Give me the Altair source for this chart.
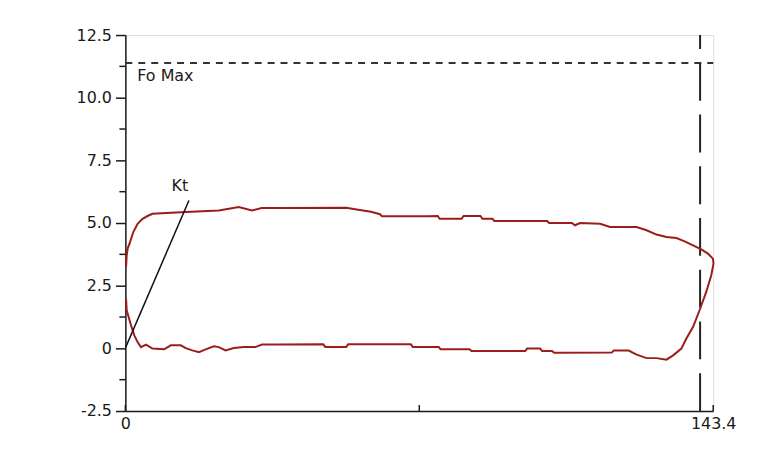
import altair as alt
import pandas as pd

# Force–displacement loop (x: displacement, y: force)
loop_x = [0.17, 0.32, 1.38, 2.18, 2.98, 3.81, 5.02, 6.62, 9.46, 11.09, 13.52, 14.73, 16.33,
          17.96, 19.58, 21.6, 22.81, 24.43, 26.45, 28.87, 31.71, 33.31, 37.37, 48.28, 48.77,
          53.87, 54.35, 69.64, 70.12, 76.43, 76.92, 83.95, 84.44, 97.54, 98.02, 101.18,
          101.66, 104.09, 104.58, 118.65, 119.14, 122.78, 124.72, 127.14, 129.57, 131.99,
          133.62, 135.63, 136.85, 138.47, 140.07, 141.7, 142.91, 143.47, 143.33, 142.11,
          140.49, 138.47, 136.44, 134.42, 131.99, 129.57, 127.14, 124.72, 118.24, 115.81,
          110.96, 109.67, 108.94, 103.36, 102.88, 90.02, 89.53, 87.11, 86.62, 82.5, 82.01,
          76.67, 76.19, 73.76, 62.6, 62.11, 59.93, 56.78, 53.87, 37.37, 33.24, 30.89, 27.66,
          22.81, 14.73, 6.62, 5.41, 4.2, 2.98, 1.94, 1.14, 0.56, 0.32, 0.17]
loop_y = [1.98, 1.52, 0.92, 0.52, 0.25, 0.05, 0.15, -0.01, -0.04, 0.12, 0.12, 0.01, -0.08,
          -0.15, -0.04, 0.08, 0.05, -0.08, 0.01, 0.05, 0.05, 0.15, 0.15, 0.16, 0.05,
          0.05, 0.16, 0.16, 0.05, 0.05, -0.04, -0.04, -0.11, -0.11, -0.01, -0.01,
          -0.11, -0.11, -0.18, -0.17, -0.09, -0.09, -0.25, -0.39, -0.39, -0.45,
          -0.28, -0.01, 0.39, 0.85, 1.52, 2.25, 2.91, 3.38, 3.58, 3.78,
          3.95, 4.11, 4.27, 4.40, 4.44, 4.54, 4.71, 4.84, 4.84, 4.97,
          5.0, 4.91, 5.0, 5.0, 5.08, 5.08, 5.17, 5.17, 5.28, 5.28, 5.17,
          5.17, 5.28, 5.27, 5.27, 5.35, 5.45, 5.53, 5.61, 5.60, 5.60, 5.50, 5.64,
          5.50, 5.44, 5.37, 5.28, 5.17, 4.97, 4.64, 4.24, 3.98, 3.71, 3.24]

# Stiffness line Kt
kt_x = [0.1, 15.5]
kt_y = [0.05, 5.9]
kt_label = ["Kt"]
kt_label_x = [13.3]
kt_label_y = [6.46]

# Maximum force reference
fo_max = [11.38]
fo_label = ["Fo Max"]
fo_label_x = [2.9]
fo_label_y = [10.85]

# Maximum displacement reference
d_max = [140.2]

x_min, x_max = 0, 143.4
y_min, y_max = -2.5, 12.5
y_major = [-2.5, 0, 2.5, 5.0, 7.5, 10.0, 12.5]
y_minor = [-1.25, 1.25, 3.75, 6.25, 8.75, 11.25]
x_labels = [0, 143.4]
x_ticks = [0, 71.7, 143.4]

W, H = 591, 378
FONT = "DejaVu Sans"
AX = "#1a1a1a"
LBL = ("datum.value == 0 ? '0' : (datum.value < 0 ? '-' + format(-datum.value, '.1f')"
       " : format(datum.value, '.1f'))")

loop_df = pd.DataFrame({"x": loop_x, "y": loop_y, "i": list(range(len(loop_x)))})
kt_df = pd.DataFrame({"x": kt_x, "y": kt_y})

xs = alt.Scale(domain=[x_min, x_max], nice=False, zero=False)
ys = alt.Scale(domain=[y_min, y_max], nice=False, zero=False)

xaxis = alt.Axis(values=x_labels, ticks=False, grid=False, title=None,
                 labelExpr=LBL,
                 labelFont=FONT, labelFontSize=16, labelColor=AX, labelPadding=5,
                 domainColor=AX, domainWidth=1.5, labelFlush=False, labelOverlap=False)
yaxis = alt.Axis(values=y_major, grid=False, title=None, tickSize=10, tickWidth=1.5,
                 tickColor=AX,
                 labelExpr=LBL,
                 labelFont=FONT, labelFontSize=16, labelColor=AX, labelPadding=4,
                 domainColor=AX, domainWidth=1.5, labelFlush=False, labelOverlap=False)

loop = alt.Chart(loop_df).mark_line(color="#9c1c1c", strokeWidth=2, interpolate="linear").encode(
    x=alt.X("x:Q", scale=xs, axis=xaxis),
    y=alt.Y("y:Q", scale=ys, axis=yaxis),
    order="i:O",
)

kt = alt.Chart(kt_df).mark_line(color="#111111", strokeWidth=1.5).encode(
    x=alt.X("x:Q", scale=xs), y=alt.Y("y:Q", scale=ys)
)

kt_text = alt.Chart(pd.DataFrame({"x": kt_label_x, "y": kt_label_y, "t": kt_label})).mark_text(
    font=FONT, fontSize=16, color=AX, align="center", baseline="middle"
).encode(x=alt.X("x:Q", scale=xs), y=alt.Y("y:Q", scale=ys), text="t:N")

fo_rule = alt.Chart(pd.DataFrame({"y": fo_max, "x": [x_min], "x2": [x_max]})).mark_rule(
    color="#333333", strokeWidth=2, strokeDash=[7, 6]
).encode(x=alt.X("x:Q", scale=xs), x2="x2:Q", y=alt.Y("y:Q", scale=ys))

fo_text = alt.Chart(pd.DataFrame({"x": fo_label_x, "y": fo_label_y, "t": fo_label})).mark_text(
    font=FONT, fontSize=16, color=AX, align="left", baseline="middle"
).encode(x=alt.X("x:Q", scale=xs), y=alt.Y("y:Q", scale=ys), text="t:N")

d_rule = alt.Chart(pd.DataFrame({"x": d_max, "y": [y_min], "y2": [y_max]})).mark_rule(
    color="#222222", strokeWidth=2, strokeDash=[38, 14]
).encode(x=alt.X("x:Q", scale=xs), y=alt.Y("y:Q", scale=ys), y2="y2:Q")

minor = alt.Chart(pd.DataFrame({"y": y_minor})).mark_rule(color=AX, strokeWidth=1.5).encode(
    y=alt.Y("y:Q", scale=ys), x=alt.value(-6), x2=alt.value(0)
)

xt = alt.Chart(pd.DataFrame({"x": x_ticks})).mark_rule(color=AX, strokeWidth=1.5).encode(
    x=alt.X("x:Q", scale=xs), y=alt.value(H), y2=alt.value(H - 6)
)

chart = alt.layer(fo_rule, d_rule, loop, kt, kt_text, fo_text, minor, xt).properties(
    width=W, height=H,
    autosize=alt.AutoSizeParams(type="none"),
    padding={"left": 118, "top": 26, "right": 40, "bottom": 35},
).configure_view(stroke=None).configure(background="white")

chart.save("out.html", embed_options={"renderer": "svg", "actions": False})
